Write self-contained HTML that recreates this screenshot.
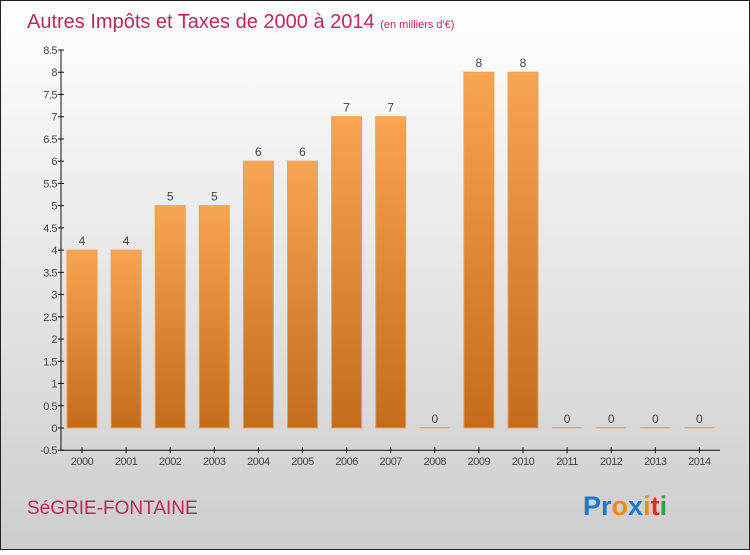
<!DOCTYPE html>
<html><head><meta charset="utf-8"><style>
body{margin:0;width:750px;height:550px;overflow:hidden;font-family:"Liberation Sans",sans-serif}
</style></head><body>
<svg width="750" height="550">
<defs>
<linearGradient id="bg" x1="0" y1="0" x2="0" y2="1"><stop offset="0" stop-color="#ffffff"/><stop offset="1" stop-color="#cdcdcd"/></linearGradient>
<linearGradient id="bar" x1="0" y1="0" x2="0" y2="1"><stop offset="0" stop-color="#f8a552"/><stop offset="1" stop-color="#c46c1c"/></linearGradient>
</defs>
<rect x="0.5" y="0.5" width="749" height="549" fill="url(#bg)" stroke="#222"/>
<text x="27" y="28" font-size="20" fill="#c0285a">Autres Impôts et Taxes de 2000 à 2014 <tspan font-size="11">(en milliers d'€)</tspan></text>
<g id="axes"></g>
<g id="bars"></g>
<text x="27" y="514" font-size="19" fill="#c0285a">SéGRIE-FONTAINE</text>
<text x="583" y="515" font-size="27" font-weight="bold"><tspan fill="#1a7ad0">Pr</tspan><tspan fill="#f08a10">o</tspan><tspan fill="#1a7ad0">x</tspan><tspan fill="#f08a10">i</tspan><tspan fill="#e03020">t</tspan><tspan fill="#30a040">i</tspan></text>
</svg>
<script>
const years=["2000","2001","2002","2003","2004","2005","2006","2007","2008","2009","2010","2011","2012","2013","2014"];
const values=[4,4,5,5,6,6,7,7,0,8,8,0,0,0,0];
const yTicks=[-0.5,0,0.5,1,1.5,2,2.5,3,3.5,4,4.5,5,5.5,6,6.5,7,7.5,8,8.5];
const NS="http://www.w3.org/2000/svg";
const y0=428,ppu=44.47,x0=82,step=44.1,bw=30;
const Y=v=>y0-v*ppu, X=i=>x0+i*step;
function mk(t,a,p){const e=document.createElementNS(NS,t);for(const k in a)e.setAttribute(k,a[k]);p.appendChild(e);return e;}
const ax=document.getElementById('axes'),bg=document.getElementById('bars');
const yl=mk('line',{x1:61,y1:Y(8.5),x2:61,y2:Y(-0.5),stroke:'#111'},ax);


const xl=mk('line',{x1:61,y1:Y(-0.5),x2:720,y2:Y(-0.5),stroke:'#111'},ax);


yTicks.forEach(v=>{
 mk('line',{x1:58,x2:64,y1:Y(v),y2:Y(v),stroke:'#111'},ax);
 const t=mk('text',{x:57,y:Y(v)+4,'font-size':11,'text-anchor':'end',fill:'#444','letter-spacing':'-0.5'},ax);
 t.textContent=String(v);
 
 
});
years.forEach((yr,i)=>{
 mk('line',{x1:X(i),x2:X(i),y1:Y(-0.5)-3,y2:Y(-0.5)+3,stroke:'#111'},ax);
 const t=mk('text',{x:X(i),y:465,'font-size':11,'text-anchor':'middle',fill:'#444','letter-spacing':'-0.5'},ax);
 t.textContent=yr;
 
 
 const v=values[i];
 const h=Math.max(v*ppu,1.5);
 const r=mk('rect',{x:X(i)-bw/2,y:Y(v)-(v===0?1:0),width:bw,height:h,fill:v===0?'#f4a060':'url(#bar)',stroke:v===0?'none':'#f0a050','stroke-width':1},bg);
 
 
 const l=mk('text',{x:X(i),y:Y(v)-5,'font-size':12,'text-anchor':'middle',fill:'#444'},bg);
 l.textContent=String(v);
 
 
});
</script>
</body></html>
